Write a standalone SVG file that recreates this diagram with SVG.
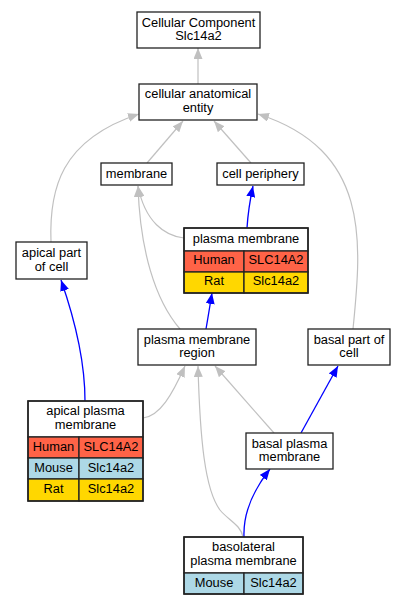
<svg xmlns="http://www.w3.org/2000/svg" width="407" height="605" viewBox="0 0 407 605">
<style>
  text { font-family: "Liberation Sans", Arial, sans-serif; font-size: 12.85px; fill: #000; text-anchor: middle; }
  .box { fill: #fff; stroke: #222; stroke-width: 1.3; }
  .human { fill: #ff6347; stroke: #222; stroke-width: 1.3; }
  .mouse { fill: #add8e6; stroke: #222; stroke-width: 1.3; }
  .rat { fill: #ffd700; stroke: #222; stroke-width: 1.3; }
  .outer { fill: none; stroke: #222; stroke-width: 1.5; }
  .g { fill: none; stroke: #c0c0c0; stroke-width: 1.2; marker-end: url(#ag); }
  .b { fill: none; stroke: #0000ff; stroke-width: 1.3; marker-end: url(#ab); }
</style>
<defs>
  <marker id="ag" viewBox="0 0 11 9" refX="11" refY="4.5" markerWidth="11" markerHeight="9" markerUnits="userSpaceOnUse" orient="auto">
    <path d="M0,0 L11,4.5 L0,9 z" fill="#c0c0c0"/>
  </marker>
  <marker id="ab" viewBox="0 0 11 9" refX="11" refY="4.5" markerWidth="11" markerHeight="9" markerUnits="userSpaceOnUse" orient="auto">
    <path d="M0,0 L11,4.5 L0,9 z" fill="#0000ff"/>
  </marker>
</defs>
<rect width="407" height="605" fill="#fff"/>
<g id="edges">
  <path class="g" d="M198,84 L198,48"/>
  <path class="g" d="M147,163 L183,121"/>
  <path class="g" d="M251,163 L214,121"/>
  <path class="g" d="M51,242 C49,190 60,140 139,114"/>
  <path class="g" d="M353,329 C362,240 370,150 258,114"/>
  <path class="g" d="M184,238 C165,236 145,222 138,186"/>
  <path class="g" d="M180,329 C155,300 140,250 138,186"/>
  <path class="b" d="M247,228 C248,212 250,200 253,186"/>
  <path class="b" d="M206,329 C208,318 210,305 212,293"/>
  <path class="b" d="M85,401 C85,360 75,320 61,280"/>
  <path class="g" d="M143,418 C160,416 172,395 185,366"/>
  <path class="g" d="M274,433 L215,366"/>
  <path class="g" d="M243,537 C241,525 228,520 220,510 C205,490 200,440 198,366"/>
  <path class="b" d="M244,537 C243,512 255,488 270,469"/>
  <path class="b" d="M301,433 L338,366"/>
</g>
<g id="n_cc">
  <rect class="box" x="137" y="12" width="123" height="36"/>
  <text x="198.5" y="26.5">Cellular Component</text>
  <text x="198.5" y="40">Slc14a2</text>
</g>
<g id="n_cae">
  <rect class="box" x="139" y="84" width="118" height="36"/>
  <text x="198" y="98">cellular anatomical</text>
  <text x="198" y="111.5">entity</text>
</g>
<g id="n_membrane">
  <rect class="box" x="101" y="163" width="71" height="22"/>
  <text x="136.5" y="178">membrane</text>
</g>
<g id="n_cp">
  <rect class="box" x="217" y="163" width="87" height="22"/>
  <text x="260.5" y="178">cell periphery</text>
</g>
<g id="n_pm">
  <rect class="box" x="184" y="228" width="124" height="23"/>
  <rect class="human" x="184" y="251" width="60" height="21"/>
  <rect class="human" x="244" y="251" width="64" height="21"/>
  <rect class="rat" x="184" y="272" width="60" height="21"/>
  <rect class="rat" x="244" y="272" width="64" height="21"/>
  <rect class="outer" x="184" y="228" width="124" height="65"/>
  <text x="246" y="243">plasma membrane</text>
  <text x="214" y="263.5">Human</text>
  <text x="276" y="263.5">SLC14A2</text>
  <text x="214" y="284.5">Rat</text>
  <text x="276" y="284.5">Slc14a2</text>
</g>
<g id="n_apc">
  <rect class="box" x="16" y="242" width="71" height="37"/>
  <text x="51.5" y="257">apical part</text>
  <text x="51.5" y="270.5">of cell</text>
</g>
<g id="n_pmr">
  <rect class="box" x="138" y="329" width="118" height="36"/>
  <text x="197" y="343.5">plasma membrane</text>
  <text x="197" y="357">region</text>
</g>
<g id="n_bpc">
  <rect class="box" x="308" y="329" width="82" height="36"/>
  <text x="349" y="343.5">basal part of</text>
  <text x="349" y="357">cell</text>
</g>
<g id="n_apm">
  <rect class="box" x="28" y="401" width="115" height="36"/>
  <rect class="human" x="28" y="437" width="51" height="21"/>
  <rect class="human" x="79" y="437" width="64" height="21"/>
  <rect class="mouse" x="28" y="458" width="51" height="21"/>
  <rect class="mouse" x="79" y="458" width="64" height="21"/>
  <rect class="rat" x="28" y="479" width="51" height="22"/>
  <rect class="rat" x="79" y="479" width="64" height="22"/>
  <rect class="outer" x="28" y="401" width="115" height="100"/>
  <text x="85.5" y="415">apical plasma</text>
  <text x="85.5" y="428.5">membrane</text>
  <text x="53.5" y="451">Human</text>
  <text x="111" y="451">SLC14A2</text>
  <text x="53.5" y="472">Mouse</text>
  <text x="111" y="472">Slc14a2</text>
  <text x="53.5" y="493">Rat</text>
  <text x="111" y="493">Slc14a2</text>
</g>
<g id="n_bpm">
  <rect class="box" x="246" y="433" width="87" height="36"/>
  <text x="289.5" y="447.5">basal plasma</text>
  <text x="289.5" y="461">membrane</text>
</g>
<g id="n_blpm">
  <rect class="box" x="184" y="537" width="119" height="36"/>
  <rect class="mouse" x="184" y="573" width="60" height="21"/>
  <rect class="mouse" x="244" y="573" width="59" height="21"/>
  <rect class="outer" x="184" y="537" width="119" height="57"/>
  <text x="243.5" y="551">basolateral</text>
  <text x="243.5" y="564.5">plasma membrane</text>
  <text x="214" y="587">Mouse</text>
  <text x="273.5" y="587">Slc14a2</text>
</g>
</svg>
